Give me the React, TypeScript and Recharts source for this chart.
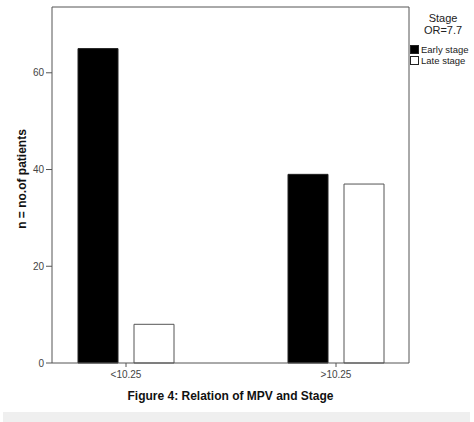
import { Bar, BarChart, Legend, XAxis, YAxis } from "recharts";

const groups = ["<10.25", ">10.25"];
const earlyStage = [65, 39];
const lateStage = [8, 37];
const yTicks = [0, 20, 40, 60];
const legendTitle = ["Stage", "OR=7.7"];

const data = groups.map((g, i) => ({
  group: g,
  early: earlyStage[i],
  late: lateStage[i],
}));

const FONT = "'Liberation Sans', Arial, sans-serif";
const AXIS = "#555";

function StageLegend(props: any) {
  const items = props.payload || [];
  return (
    <div style={{ fontFamily: FONT, color: "#222", width: 66 }}>
      {legendTitle.map((t) => (
        <div key={t} style={{ textAlign: "center", fontSize: 11, lineHeight: "12px" }}>
          {t}
        </div>
      ))}
      <div style={{ height: 8 }} />
      {items.map((it: any) => (
        <div key={it.value} style={{ display: "flex", alignItems: "center", fontSize: 9.5, lineHeight: "11px", height: 11 }}>
          <span
            style={{
              display: "inline-block",
              width: 7,
              height: 7,
              background: it.payload.fill,
              border: "1px solid #222",
              marginRight: 2,
            }}
          />
          {it.value}
        </div>
      ))}
    </div>
  );
}

export default function App() {
  return (
    <div style={{ position: "absolute", left: 0, top: 0, width: 474, height: 422, background: "#fff" }}>
      <BarChart
        width={474}
        height={410}
        data={data}
        margin={{ top: 6, right: 64, left: 0, bottom: 27 }}
        barSize={40}
        barGap={16}
      >
        <XAxis
          xAxisId="main"
          dataKey="group"
          padding={{ left: -31, right: -32 }}
          height={20}
          stroke={AXIS}
          tickSize={4}
          tickMargin={4}
          tick={{ fontSize: 10, fill: "#444", fontFamily: FONT }}
          label={{
            value: "Figure 4: Relation of MPV and Stage",
            position: "bottom",
            offset: 8,
            style: { fontSize: 12, fontWeight: "bold", fill: "#111", fontFamily: FONT },
          }}
        />
        <XAxis
          xAxisId="top"
          type="number"
          domain={[0, 1]}
          orientation="top"
          height={1}
          tick={false}
          tickLine={false}
          stroke={AXIS}
        />
        <YAxis
          yAxisId="main"
          width={52}
          domain={[0, 73.6]}
          ticks={yTicks}
          stroke={AXIS}
          tickSize={6}
          tickMargin={2}
          tick={{ fontSize: 10, fill: "#444", fontFamily: FONT }}
          label={{
            value: "n = no.of patients",
            angle: -90,
            position: "insideLeft",
            offset: 22,
            dx: 0,
            dy: -6,
            style: { textAnchor: "middle", fontSize: 12, fontWeight: "bold", fill: "#111", fontFamily: FONT },
          }}
        />
        <YAxis
          yAxisId="right"
          type="number"
          domain={[0, 73.6]}
          orientation="right"
          width={1}
          tick={false}
          tickLine={false}
          stroke={AXIS}
        />
        <Legend
          content={<StageLegend />}
          layout="horizontal"
          verticalAlign="middle"
          align="center"
          wrapperStyle={{ position: "absolute", left: 410, top: 12, width: 66 }}
        />
        <Bar
          xAxisId="main"
          yAxisId="main"
          dataKey="early"
          name="Early stage"
          fill="#000"
          stroke="#222"
          isAnimationActive={false}
        />
        <Bar
          xAxisId="main"
          yAxisId="main"
          dataKey="late"
          name="Late stage"
          fill="#fff"
          stroke="#555"
          isAnimationActive={false}
        />
      </BarChart>
      <div style={{ position: "absolute", left: 3, top: 412, width: 467, height: 10, background: "#efefef" }} />
    </div>
  );
}
